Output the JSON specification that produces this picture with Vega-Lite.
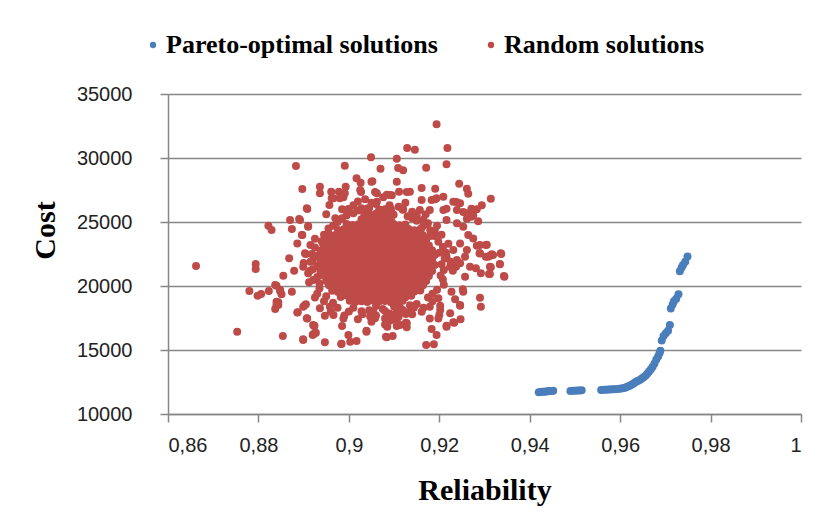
{
  "$schema": "https://vega.github.io/schema/vega-lite/v6.json",
  "width": 633,
  "height": 320,
  "autosize": "none",
  "padding": {"left": 168, "top": 94, "right": 31, "bottom": 99},
  "background": "white",
  "config": {"view": {"stroke": null}},
  "datasets": {
    "pareto": [
      {"reliability": 0.9420, "cost": 11700}, {"reliability": 0.9424, "cost": 11720}, {"reliability": 0.9428, "cost": 11730},
      {"reliability": 0.9432, "cost": 11740}, {"reliability": 0.9436, "cost": 11760}, {"reliability": 0.9440, "cost": 11770},
      {"reliability": 0.9444, "cost": 11790}, {"reliability": 0.9448, "cost": 11800}, {"reliability": 0.9452, "cost": 11820},
      {"reliability": 0.9490, "cost": 11800}, {"reliability": 0.9495, "cost": 11810}, {"reliability": 0.9500, "cost": 11820},
      {"reliability": 0.9505, "cost": 11830}, {"reliability": 0.9510, "cost": 11840}, {"reliability": 0.9515, "cost": 11850},
      {"reliability": 0.9558, "cost": 11870}, {"reliability": 0.9563, "cost": 11890}, {"reliability": 0.9568, "cost": 11900},
      {"reliability": 0.9573, "cost": 11910}, {"reliability": 0.9578, "cost": 11920}, {"reliability": 0.9583, "cost": 11930},
      {"reliability": 0.9588, "cost": 11940}, {"reliability": 0.9593, "cost": 11950}, {"reliability": 0.9598, "cost": 11970},
      {"reliability": 0.9603, "cost": 11990}, {"reliability": 0.9608, "cost": 12030}, {"reliability": 0.9612, "cost": 12070},
      {"reliability": 0.9616, "cost": 12120}, {"reliability": 0.9620, "cost": 12180}, {"reliability": 0.9624, "cost": 12260},
      {"reliability": 0.9628, "cost": 12350}, {"reliability": 0.9632, "cost": 12450}, {"reliability": 0.9636, "cost": 12530},
      {"reliability": 0.9640, "cost": 12600}, {"reliability": 0.9644, "cost": 12680}, {"reliability": 0.9648, "cost": 12780},
      {"reliability": 0.9652, "cost": 12870}, {"reliability": 0.9656, "cost": 12980}, {"reliability": 0.9660, "cost": 13150},
      {"reliability": 0.9664, "cost": 13330}, {"reliability": 0.9668, "cost": 13500}, {"reliability": 0.9672, "cost": 13700},
      {"reliability": 0.9676, "cost": 13950}, {"reliability": 0.9680, "cost": 14250}, {"reliability": 0.9684, "cost": 14500},
      {"reliability": 0.9687, "cost": 14750}, {"reliability": 0.9689, "cost": 14950},
      {"reliability": 0.9692, "cost": 15750}, {"reliability": 0.9696, "cost": 16100}, {"reliability": 0.9701, "cost": 16300},
      {"reliability": 0.9706, "cost": 16500}, {"reliability": 0.9710, "cost": 16950},
      {"reliability": 0.9712, "cost": 18250}, {"reliability": 0.9716, "cost": 18550}, {"reliability": 0.9719, "cost": 18800},
      {"reliability": 0.9724, "cost": 19000}, {"reliability": 0.9729, "cost": 19350},
      {"reliability": 0.9732, "cost": 21150}, {"reliability": 0.9736, "cost": 21450}, {"reliability": 0.9739, "cost": 21650},
      {"reliability": 0.9744, "cost": 21900}, {"reliability": 0.9749, "cost": 22300}
    ],
    "random": [
      {"reliability": 0.9194, "cost": 32630}, {"reliability": 0.9129, "cost": 30780}, {"reliability": 0.9146, "cost": 30650},
      {"reliability": 0.9218, "cost": 30780}, {"reliability": 0.9049, "cost": 30050}, {"reliability": 0.9106, "cost": 29950},
      {"reliability": 0.9216, "cost": 29510}, {"reliability": 0.8883, "cost": 29375}, {"reliability": 0.8991, "cost": 29400},
      {"reliability": 0.9070, "cost": 29160}, {"reliability": 0.9109, "cost": 29220}, {"reliability": 0.9120, "cost": 29040},
      {"reliability": 0.9171, "cost": 29240}, {"reliability": 0.9017, "cost": 28410}, {"reliability": 0.9026, "cost": 28070},
      {"reliability": 0.9025, "cost": 27500}, {"reliability": 0.9050, "cost": 28150}, {"reliability": 0.9106, "cost": 28150},
      {"reliability": 0.8897, "cost": 27580}, {"reliability": 0.8936, "cost": 27760}, {"reliability": 0.8936, "cost": 27240},
      {"reliability": 0.8961, "cost": 27370}, {"reliability": 0.8978, "cost": 27370}, {"reliability": 0.8993, "cost": 27760},
      {"reliability": 0.8988, "cost": 26930}, {"reliability": 0.8962, "cost": 26850}, {"reliability": 0.8908, "cost": 26020},
      {"reliability": 0.8870, "cost": 25160}, {"reliability": 0.8890, "cost": 25230}, {"reliability": 0.8822, "cost": 24710},
      {"reliability": 0.8829, "cost": 24380}, {"reliability": 0.8874, "cost": 24450}, {"reliability": 0.8897, "cost": 23980},
      {"reliability": 0.8886, "cost": 23330}, {"reliability": 0.8910, "cost": 24690}, {"reliability": 0.8868, "cost": 22160},
      {"reliability": 0.8662, "cost": 21560}, {"reliability": 0.8794, "cost": 21720}, {"reliability": 0.8794, "cost": 21330},
      {"reliability": 0.8855, "cost": 20800}, {"reliability": 0.8879, "cost": 21200}, {"reliability": 0.8840, "cost": 20020},
      {"reliability": 0.8780, "cost": 19610}, {"reliability": 0.8798, "cost": 19240}, {"reliability": 0.8806, "cost": 19380},
      {"reliability": 0.8823, "cost": 19610}, {"reliability": 0.8848, "cost": 19610}, {"reliability": 0.8851, "cost": 19350},
      {"reliability": 0.8874, "cost": 19560}, {"reliability": 0.8844, "cost": 18730}, {"reliability": 0.8840, "cost": 18520},
      {"reliability": 0.8837, "cost": 18200}, {"reliability": 0.8753, "cost": 16430}, {"reliability": 0.8854, "cost": 16090},
      {"reliability": 0.8886, "cost": 17920}, {"reliability": 0.8899, "cost": 18380}, {"reliability": 0.8903, "cost": 18520},
      {"reliability": 0.8908, "cost": 17470}, {"reliability": 0.8923, "cost": 16880}, {"reliability": 0.8920, "cost": 16170},
      {"reliability": 0.8925, "cost": 16300}, {"reliability": 0.8899, "cost": 15840}, {"reliability": 0.8947, "cost": 15600},
      {"reliability": 0.8983, "cost": 15470}, {"reliability": 0.9003, "cost": 15650}, {"reliability": 0.9017, "cost": 15700},
      {"reliability": 0.8985, "cost": 16880}, {"reliability": 0.8999, "cost": 16170}, {"reliability": 0.8988, "cost": 17470},
      {"reliability": 0.8947, "cost": 17680}, {"reliability": 0.8966, "cost": 17730}, {"reliability": 0.8936, "cost": 18260},
      {"reliability": 0.8958, "cost": 18380}, {"reliability": 0.9039, "cost": 16510}, {"reliability": 0.9084, "cost": 15990},
      {"reliability": 0.9097, "cost": 16090}, {"reliability": 0.9085, "cost": 16820}, {"reliability": 0.9106, "cost": 16880},
      {"reliability": 0.9126, "cost": 17130}, {"reliability": 0.9128, "cost": 16770}, {"reliability": 0.9171, "cost": 15390},
      {"reliability": 0.9188, "cost": 15450}, {"reliability": 0.9183, "cost": 16640}, {"reliability": 0.9194, "cost": 16170},
      {"reliability": 0.9216, "cost": 16820}, {"reliability": 0.9233, "cost": 17130}, {"reliability": 0.9247, "cost": 17400},
      {"reliability": 0.9224, "cost": 17870}, {"reliability": 0.9200, "cost": 17730}, {"reliability": 0.9202, "cost": 18130},
      {"reliability": 0.9179, "cost": 17470}, {"reliability": 0.9198, "cost": 17470}, {"reliability": 0.9135, "cost": 17990},
      {"reliability": 0.9144, "cost": 18330}, {"reliability": 0.9126, "cost": 17810}, {"reliability": 0.9113, "cost": 18330},
      {"reliability": 0.9100, "cost": 17600}, {"reliability": 0.9091, "cost": 17290}, {"reliability": 0.9080, "cost": 17470},
      {"reliability": 0.9235, "cost": 18960}, {"reliability": 0.9246, "cost": 18520}, {"reliability": 0.9253, "cost": 19560},
      {"reliability": 0.9252, "cost": 19740}, {"reliability": 0.9227, "cost": 19560}, {"reliability": 0.9290, "cost": 19090},
      {"reliability": 0.9292, "cost": 18380}, {"reliability": 0.9257, "cost": 20730}, {"reliability": 0.9281, "cost": 21380},
      {"reliability": 0.9292, "cost": 20990}, {"reliability": 0.9312, "cost": 20940}, {"reliability": 0.9334, "cost": 21720},
      {"reliability": 0.9344, "cost": 20730}, {"reliability": 0.9314, "cost": 21460}, {"reliability": 0.9312, "cost": 22370},
      {"reliability": 0.9337, "cost": 22500}, {"reliability": 0.9319, "cost": 22420}, {"reliability": 0.9290, "cost": 22550},
      {"reliability": 0.8921, "cost": 16950}, {"reliability": 0.8907, "cost": 17480}, {"reliability": 0.9303, "cost": 22290},
      {"reliability": 0.9316, "cost": 22480}, {"reliability": 0.9303, "cost": 23200}, {"reliability": 0.9283, "cost": 23150},
      {"reliability": 0.9237, "cost": 21510}, {"reliability": 0.9246, "cost": 21770}, {"reliability": 0.9246, "cost": 18460},
      {"reliability": 0.9231, "cost": 17160}, {"reliability": 0.9216, "cost": 16900}, {"reliability": 0.9161, "cost": 17990},
      {"reliability": 0.9179, "cost": 18380}, {"reliability": 0.9202, "cost": 18460}, {"reliability": 0.9198, "cost": 19040},
      {"reliability": 0.9082, "cost": 16040}, {"reliability": 0.9039, "cost": 16430}, {"reliability": 0.9113, "cost": 16950},
      {"reliability": 0.9128, "cost": 17090}, {"reliability": 0.9106, "cost": 17270}, {"reliability": 0.9058, "cost": 17480},
      {"reliability": 0.9027, "cost": 27340}, {"reliability": 0.9036, "cost": 26770}, {"reliability": 0.9058, "cost": 27340},
      {"reliability": 0.9084, "cost": 27130}, {"reliability": 0.9095, "cost": 27090}, {"reliability": 0.9128, "cost": 27340},
      {"reliability": 0.9161, "cost": 27660}, {"reliability": 0.9191, "cost": 27600}, {"reliability": 0.9191, "cost": 26770},
      {"reliability": 0.9216, "cost": 26040}, {"reliability": 0.9238, "cost": 26560}, {"reliability": 0.9253, "cost": 25780},
      {"reliability": 0.9261, "cost": 25260}, {"reliability": 0.9244, "cost": 27990}, {"reliability": 0.9261, "cost": 27600},
      {"reliability": 0.9264, "cost": 27210}, {"reliability": 0.9314, "cost": 26820}, {"reliability": 0.9294, "cost": 26300},
      {"reliability": 0.9283, "cost": 25990}, {"reliability": 0.9271, "cost": 26040}, {"reliability": 0.9275, "cost": 25520},
      {"reliability": 0.9286, "cost": 25050}, {"reliability": 0.9052, "cost": 28180}, {"reliability": 0.8907, "cost": 26070},
      {"reliability": 0.8966, "cost": 26850}, {"reliability": 0.8957, "cost": 26330}, {"reliability": 0.8991, "cost": 27240},
      {"reliability": 0.8980, "cost": 26850}, {"reliability": 0.8999, "cost": 26020}, {"reliability": 0.9209, "cost": 26980},
      {"reliability": 0.9231, "cost": 26590}, {"reliability": 0.9246, "cost": 26460}, {"reliability": 0.9111, "cost": 27370},
      {"reliability": 0.9091, "cost": 27110}, {"reliability": 0.9076, "cost": 26930}, {"reliability": 0.9062, "cost": 27240},
      {"reliability": 0.9062, "cost": 26590}, {"reliability": 0.9073, "cost": 25940}, {"reliability": 0.9039, "cost": 25940},
      {"reliability": 0.9010, "cost": 25680}, {"reliability": 0.9028, "cost": 26070}, {"reliability": 0.9135, "cost": 27370},
      {"reliability": 0.9161, "cost": 26720}, {"reliability": 0.9183, "cost": 26720}, {"reliability": 0.9194, "cost": 26850},
      {"reliability": 0.9157, "cost": 25940}, {"reliability": 0.9179, "cost": 25940}, {"reliability": 0.9209, "cost": 25940},
      {"reliability": 0.9239, "cost": 25940}, {"reliability": 0.9261, "cost": 25680}, {"reliability": 0.9271, "cost": 25410},
      {"reliability": 0.9290, "cost": 23200}, {"reliability": 0.9305, "cost": 23220}, {"reliability": 0.9289, "cost": 22550},
      {"reliability": 0.9308, "cost": 22290}, {"reliability": 0.9336, "cost": 22550}, {"reliability": 0.9334, "cost": 21690},
      {"reliability": 0.9312, "cost": 21510}, {"reliability": 0.9310, "cost": 20940}, {"reliability": 0.9343, "cost": 20780},
      {"reliability": 0.9257, "cost": 22290}, {"reliability": 0.9268, "cost": 21510}, {"reliability": 0.8892, "cost": 25160},
      {"reliability": 0.8910, "cost": 24630}, {"reliability": 0.8896, "cost": 23980}, {"reliability": 0.8903, "cost": 22550},
      {"reliability": 0.8899, "cost": 21510}, {"reliability": 0.8914, "cost": 21200}, {"reliability": 0.8921, "cost": 20470},
      {"reliability": 0.8837, "cost": 20080}, {"reliability": 0.8848, "cost": 19690}, {"reliability": 0.8840, "cost": 18770},
      {"reliability": 0.8844, "cost": 18520}, {"reliability": 0.8905, "cost": 18570}, {"reliability": 0.8887, "cost": 17950},
      {"reliability": 0.8924, "cost": 16900}, {"reliability": 0.8921, "cost": 16230}, {"reliability": 0.8927, "cost": 16350},
      {"reliability": 0.8899, "cost": 15780}, {"reliability": 0.8984, "cost": 15490},
      {"reliability": 0.9216, "cost": 25160}, {"reliability": 0.9239, "cost": 24900}, {"reliability": 0.9253, "cost": 24630},
      {"reliability": 0.9264, "cost": 23980}, {"reliability": 0.9275, "cost": 23720}, {"reliability": 0.9246, "cost": 23330},
      {"reliability": 0.9231, "cost": 22810}, {"reliability": 0.9216, "cost": 22290}, {"reliability": 0.9239, "cost": 22030},
      {"reliability": 0.9261, "cost": 22810}, {"reliability": 0.9224, "cost": 21510},
      {"reliability": 0.9225, "cost": 21900}, {"reliability": 0.9215, "cost": 22600}, {"reliability": 0.9230, "cost": 21200},
      {"reliability": 0.9208, "cost": 20500}, {"reliability": 0.9220, "cost": 23300}, {"reliability": 0.9190, "cost": 24300},
      {"reliability": 0.9175, "cost": 24900}, {"reliability": 0.9150, "cost": 25500}, {"reliability": 0.9205, "cost": 24000},
      {"reliability": 0.9165, "cost": 25200}, {"reliability": 0.9140, "cost": 25800}, {"reliability": 0.9110, "cost": 26200},
      {"reliability": 0.9080, "cost": 26000}, {"reliability": 0.9045, "cost": 26100}, {"reliability": 0.9020, "cost": 25900},
      {"reliability": 0.9060, "cost": 26400}, {"reliability": 0.9095, "cost": 25700}, {"reliability": 0.8995, "cost": 25500},
      {"reliability": 0.8975, "cost": 25000}, {"reliability": 0.8955, "cost": 24500}, {"reliability": 0.8945, "cost": 24000},
      {"reliability": 0.8985, "cost": 25300}, {"reliability": 0.8965, "cost": 24700}, {"reliability": 0.8915, "cost": 23200},
      {"reliability": 0.8905, "cost": 22500}, {"reliability": 0.8900, "cost": 21800}, {"reliability": 0.8910, "cost": 21000},
      {"reliability": 0.8920, "cost": 22000}, {"reliability": 0.8925, "cost": 23700}, {"reliability": 0.8912, "cost": 20300},
      {"reliability": 0.8935, "cost": 19800}, {"reliability": 0.8950, "cost": 19200}, {"reliability": 0.8965, "cost": 18700},
      {"reliability": 0.8930, "cost": 19400}, {"reliability": 0.8975, "cost": 18300}, {"reliability": 0.9000, "cost": 18000},
      {"reliability": 0.9030, "cost": 17800}, {"reliability": 0.9060, "cost": 17700}, {"reliability": 0.9090, "cost": 17850},
      {"reliability": 0.9045, "cost": 18100}, {"reliability": 0.9075, "cost": 18200}, {"reliability": 0.9120, "cost": 18100},
      {"reliability": 0.9150, "cost": 18600}, {"reliability": 0.9175, "cost": 19100}, {"reliability": 0.9195, "cost": 19700},
      {"reliability": 0.9210, "cost": 20100}, {"reliability": 0.9135, "cost": 18500}, {"reliability": 0.9185, "cost": 19400},
      {"reliability": 0.9203, "cost": 20830}, {"reliability": 0.9210, "cost": 21250}, {"reliability": 0.9205, "cost": 21700},
      {"reliability": 0.9212, "cost": 22150}, {"reliability": 0.9200, "cost": 22600}, {"reliability": 0.9208, "cost": 23050},
      {"reliability": 0.9198, "cost": 23450}, {"reliability": 0.9190, "cost": 23900}, {"reliability": 0.9180, "cost": 24350},
      {"reliability": 0.9165, "cost": 24700}, {"reliability": 0.9150, "cost": 25100}, {"reliability": 0.9130, "cost": 25450},
      {"reliability": 0.8920, "cost": 21300}, {"reliability": 0.8915, "cost": 21900}, {"reliability": 0.8918, "cost": 22500},
      {"reliability": 0.8925, "cost": 23000}, {"reliability": 0.8930, "cost": 20700}, {"reliability": 0.8935, "cost": 20200},
      {"reliability": 0.8940, "cost": 23500}, {"reliability": 0.8950, "cost": 24000},
      {"reliability": 0.8970, "cost": 25300}, {"reliability": 0.9000, "cost": 25800}, {"reliability": 0.9010, "cost": 26300},
      {"reliability": 0.9050, "cost": 26500}, {"reliability": 0.9090, "cost": 26300}, {"reliability": 0.9120, "cost": 26000},
      {"reliability": 0.9140, "cost": 25300}, {"reliability": 0.9160, "cost": 24500}, {"reliability": 0.9180, "cost": 23900},
      {"reliability": 0.9195, "cost": 24700}, {"reliability": 0.9170, "cost": 25600}, {"reliability": 0.9125, "cost": 26500},
      {"reliability": 0.9020, "cost": 26600}, {"reliability": 0.8985, "cost": 26000}, {"reliability": 0.8950, "cost": 25600},
      {"reliability": 0.8960, "cost": 18000}, {"reliability": 0.8990, "cost": 17700}, {"reliability": 0.9020, "cost": 17400},
      {"reliability": 0.9050, "cost": 17200}, {"reliability": 0.9080, "cost": 17000}, {"reliability": 0.9110, "cost": 17600},
      {"reliability": 0.9140, "cost": 17800}, {"reliability": 0.9165, "cost": 18300}, {"reliability": 0.9185, "cost": 18800},
      {"reliability": 0.8945, "cost": 18800}, {"reliability": 0.8925, "cost": 19100}, {"reliability": 0.9010, "cost": 18300},
      {"reliability": 0.9100, "cost": 18400},
      {"reliability": 0.9034, "cost": 25630}, {"reliability": 0.9047, "cost": 25570}, {"reliability": 0.9060, "cost": 25650},
      {"reliability": 0.9073, "cost": 25590}, {"reliability": 0.9086, "cost": 25620}, {"reliability": 0.9099, "cost": 25560},
      {"reliability": 0.9041, "cost": 26050}, {"reliability": 0.9067, "cost": 25980}, {"reliability": 0.9093, "cost": 26030},
      {"reliability": 0.9119, "cost": 25960},
      {"reliability": 0.9028, "cost": 18030}, {"reliability": 0.9054, "cost": 17960}, {"reliability": 0.9080, "cost": 18040},
      {"reliability": 0.9106, "cost": 17980}, {"reliability": 0.9047, "cost": 17620}, {"reliability": 0.9086, "cost": 17580},
      {"reliability": 0.9060, "cost": 18440},
      {"reliability": 0.9002, "cost": 18840}, {"reliability": 0.9015, "cost": 18770}, {"reliability": 0.9028, "cost": 18810},
      {"reliability": 0.9041, "cost": 18750}, {"reliability": 0.9054, "cost": 18860}, {"reliability": 0.9067, "cost": 18780},
      {"reliability": 0.9080, "cost": 18830}, {"reliability": 0.9093, "cost": 18740}, {"reliability": 0.9106, "cost": 18800},
      {"reliability": 0.9119, "cost": 18850},
      {"reliability": 0.8982, "cost": 19150}, {"reliability": 0.8995, "cost": 19260}, {"reliability": 0.9008, "cost": 19180},
      {"reliability": 0.9021, "cost": 19230}, {"reliability": 0.9034, "cost": 19140}, {"reliability": 0.9047, "cost": 19200},
      {"reliability": 0.9060, "cost": 19250}, {"reliability": 0.9073, "cost": 19160}, {"reliability": 0.9086, "cost": 19220},
      {"reliability": 0.9099, "cost": 19190}, {"reliability": 0.9112, "cost": 19270}, {"reliability": 0.9125, "cost": 19130},
      {"reliability": 0.9138, "cost": 19230},
      {"reliability": 0.8963, "cost": 19630}, {"reliability": 0.8976, "cost": 19540}, {"reliability": 0.8989, "cost": 19600},
      {"reliability": 0.9002, "cost": 19650}, {"reliability": 0.9015, "cost": 19560}, {"reliability": 0.9028, "cost": 19620},
      {"reliability": 0.9041, "cost": 19590}, {"reliability": 0.9054, "cost": 19670}, {"reliability": 0.9067, "cost": 19530},
      {"reliability": 0.9080, "cost": 19630}, {"reliability": 0.9093, "cost": 19570}, {"reliability": 0.9106, "cost": 19650},
      {"reliability": 0.9119, "cost": 19550}, {"reliability": 0.9132, "cost": 19610}, {"reliability": 0.9145, "cost": 19580},
      {"reliability": 0.9158, "cost": 19640},
      {"reliability": 0.8956, "cost": 20050}, {"reliability": 0.8969, "cost": 19960}, {"reliability": 0.8982, "cost": 20020},
      {"reliability": 0.8995, "cost": 19990}, {"reliability": 0.9008, "cost": 20070}, {"reliability": 0.9021, "cost": 19930},
      {"reliability": 0.9034, "cost": 20030}, {"reliability": 0.9047, "cost": 19970}, {"reliability": 0.9060, "cost": 20050},
      {"reliability": 0.9073, "cost": 19950}, {"reliability": 0.9086, "cost": 20010}, {"reliability": 0.9099, "cost": 19980},
      {"reliability": 0.9112, "cost": 20040}, {"reliability": 0.9125, "cost": 19970}, {"reliability": 0.9138, "cost": 20010},
      {"reliability": 0.9151, "cost": 19950}, {"reliability": 0.9164, "cost": 20060},
      {"reliability": 0.8950, "cost": 20390}, {"reliability": 0.8963, "cost": 20470}, {"reliability": 0.8976, "cost": 20330},
      {"reliability": 0.8989, "cost": 20430}, {"reliability": 0.9002, "cost": 20370}, {"reliability": 0.9015, "cost": 20450},
      {"reliability": 0.9028, "cost": 20350}, {"reliability": 0.9041, "cost": 20410}, {"reliability": 0.9054, "cost": 20380},
      {"reliability": 0.9067, "cost": 20440}, {"reliability": 0.9080, "cost": 20370}, {"reliability": 0.9093, "cost": 20410},
      {"reliability": 0.9106, "cost": 20350}, {"reliability": 0.9119, "cost": 20460}, {"reliability": 0.9132, "cost": 20380},
      {"reliability": 0.9145, "cost": 20430}, {"reliability": 0.9158, "cost": 20340}, {"reliability": 0.9171, "cost": 20400},
      {"reliability": 0.8943, "cost": 20830}, {"reliability": 0.8956, "cost": 20770}, {"reliability": 0.8969, "cost": 20850},
      {"reliability": 0.8982, "cost": 20750}, {"reliability": 0.8995, "cost": 20810}, {"reliability": 0.9008, "cost": 20780},
      {"reliability": 0.9021, "cost": 20840}, {"reliability": 0.9034, "cost": 20770}, {"reliability": 0.9047, "cost": 20810},
      {"reliability": 0.9060, "cost": 20750}, {"reliability": 0.9073, "cost": 20860}, {"reliability": 0.9086, "cost": 20780},
      {"reliability": 0.9099, "cost": 20830}, {"reliability": 0.9112, "cost": 20740}, {"reliability": 0.9125, "cost": 20800},
      {"reliability": 0.9138, "cost": 20850}, {"reliability": 0.9151, "cost": 20760}, {"reliability": 0.9164, "cost": 20820},
      {"reliability": 0.9177, "cost": 20790},
      {"reliability": 0.8937, "cost": 21150}, {"reliability": 0.8950, "cost": 21210}, {"reliability": 0.8963, "cost": 21180},
      {"reliability": 0.8976, "cost": 21240}, {"reliability": 0.8989, "cost": 21170}, {"reliability": 0.9002, "cost": 21210},
      {"reliability": 0.9015, "cost": 21150}, {"reliability": 0.9028, "cost": 21260}, {"reliability": 0.9041, "cost": 21180},
      {"reliability": 0.9054, "cost": 21230}, {"reliability": 0.9067, "cost": 21140}, {"reliability": 0.9080, "cost": 21200},
      {"reliability": 0.9093, "cost": 21250}, {"reliability": 0.9106, "cost": 21160}, {"reliability": 0.9119, "cost": 21220},
      {"reliability": 0.9132, "cost": 21190}, {"reliability": 0.9145, "cost": 21270}, {"reliability": 0.9158, "cost": 21130},
      {"reliability": 0.9171, "cost": 21230}, {"reliability": 0.9184, "cost": 21170},
      {"reliability": 0.8930, "cost": 21570}, {"reliability": 0.8943, "cost": 21610}, {"reliability": 0.8956, "cost": 21550},
      {"reliability": 0.8969, "cost": 21660}, {"reliability": 0.8982, "cost": 21580}, {"reliability": 0.8995, "cost": 21630},
      {"reliability": 0.9008, "cost": 21540}, {"reliability": 0.9021, "cost": 21600}, {"reliability": 0.9034, "cost": 21650},
      {"reliability": 0.9047, "cost": 21560}, {"reliability": 0.9060, "cost": 21620}, {"reliability": 0.9073, "cost": 21590},
      {"reliability": 0.9086, "cost": 21670}, {"reliability": 0.9099, "cost": 21530}, {"reliability": 0.9112, "cost": 21630},
      {"reliability": 0.9125, "cost": 21570}, {"reliability": 0.9138, "cost": 21650}, {"reliability": 0.9151, "cost": 21550},
      {"reliability": 0.9164, "cost": 21610}, {"reliability": 0.9177, "cost": 21580}, {"reliability": 0.9190, "cost": 21640},
      {"reliability": 0.8937, "cost": 22060}, {"reliability": 0.8950, "cost": 21980}, {"reliability": 0.8963, "cost": 22030},
      {"reliability": 0.8976, "cost": 21940}, {"reliability": 0.8989, "cost": 22000}, {"reliability": 0.9002, "cost": 22050},
      {"reliability": 0.9015, "cost": 21960}, {"reliability": 0.9028, "cost": 22020}, {"reliability": 0.9041, "cost": 21990},
      {"reliability": 0.9054, "cost": 22070}, {"reliability": 0.9067, "cost": 21930}, {"reliability": 0.9080, "cost": 22030},
      {"reliability": 0.9093, "cost": 21970}, {"reliability": 0.9106, "cost": 22050}, {"reliability": 0.9119, "cost": 21950},
      {"reliability": 0.9132, "cost": 22010}, {"reliability": 0.9145, "cost": 21980}, {"reliability": 0.9158, "cost": 22040},
      {"reliability": 0.9171, "cost": 21970}, {"reliability": 0.9184, "cost": 22010},
      {"reliability": 0.8930, "cost": 22340}, {"reliability": 0.8943, "cost": 22400}, {"reliability": 0.8956, "cost": 22450},
      {"reliability": 0.8969, "cost": 22360}, {"reliability": 0.8982, "cost": 22420}, {"reliability": 0.8995, "cost": 22390},
      {"reliability": 0.9008, "cost": 22470}, {"reliability": 0.9021, "cost": 22330}, {"reliability": 0.9034, "cost": 22430},
      {"reliability": 0.9047, "cost": 22370}, {"reliability": 0.9060, "cost": 22450}, {"reliability": 0.9073, "cost": 22350},
      {"reliability": 0.9086, "cost": 22410}, {"reliability": 0.9099, "cost": 22380}, {"reliability": 0.9112, "cost": 22440},
      {"reliability": 0.9125, "cost": 22370}, {"reliability": 0.9138, "cost": 22410}, {"reliability": 0.9151, "cost": 22350},
      {"reliability": 0.9164, "cost": 22460}, {"reliability": 0.9177, "cost": 22380}, {"reliability": 0.9190, "cost": 22430},
      {"reliability": 0.8937, "cost": 22760}, {"reliability": 0.8950, "cost": 22820}, {"reliability": 0.8963, "cost": 22790},
      {"reliability": 0.8976, "cost": 22870}, {"reliability": 0.8989, "cost": 22730}, {"reliability": 0.9002, "cost": 22830},
      {"reliability": 0.9015, "cost": 22770}, {"reliability": 0.9028, "cost": 22850}, {"reliability": 0.9041, "cost": 22750},
      {"reliability": 0.9054, "cost": 22810}, {"reliability": 0.9067, "cost": 22780}, {"reliability": 0.9080, "cost": 22840},
      {"reliability": 0.9093, "cost": 22770}, {"reliability": 0.9106, "cost": 22810}, {"reliability": 0.9119, "cost": 22750},
      {"reliability": 0.9132, "cost": 22860}, {"reliability": 0.9145, "cost": 22780}, {"reliability": 0.9158, "cost": 22830},
      {"reliability": 0.9171, "cost": 22740}, {"reliability": 0.9184, "cost": 22800},
      {"reliability": 0.8943, "cost": 23270}, {"reliability": 0.8956, "cost": 23130}, {"reliability": 0.8969, "cost": 23230},
      {"reliability": 0.8982, "cost": 23170}, {"reliability": 0.8995, "cost": 23250}, {"reliability": 0.9008, "cost": 23150},
      {"reliability": 0.9021, "cost": 23210}, {"reliability": 0.9034, "cost": 23180}, {"reliability": 0.9047, "cost": 23240},
      {"reliability": 0.9060, "cost": 23170}, {"reliability": 0.9073, "cost": 23210}, {"reliability": 0.9086, "cost": 23150},
      {"reliability": 0.9099, "cost": 23260}, {"reliability": 0.9112, "cost": 23180}, {"reliability": 0.9125, "cost": 23230},
      {"reliability": 0.9138, "cost": 23140}, {"reliability": 0.9151, "cost": 23200}, {"reliability": 0.9164, "cost": 23250},
      {"reliability": 0.9177, "cost": 23160},
      {"reliability": 0.8950, "cost": 23570}, {"reliability": 0.8963, "cost": 23650}, {"reliability": 0.8976, "cost": 23550},
      {"reliability": 0.8989, "cost": 23610}, {"reliability": 0.9002, "cost": 23580}, {"reliability": 0.9015, "cost": 23640},
      {"reliability": 0.9028, "cost": 23570}, {"reliability": 0.9041, "cost": 23610}, {"reliability": 0.9054, "cost": 23550},
      {"reliability": 0.9067, "cost": 23660}, {"reliability": 0.9080, "cost": 23580}, {"reliability": 0.9093, "cost": 23630},
      {"reliability": 0.9106, "cost": 23540}, {"reliability": 0.9119, "cost": 23600}, {"reliability": 0.9132, "cost": 23650},
      {"reliability": 0.9145, "cost": 23560}, {"reliability": 0.9158, "cost": 23620}, {"reliability": 0.9171, "cost": 23590},
      {"reliability": 0.8956, "cost": 24040}, {"reliability": 0.8969, "cost": 23970}, {"reliability": 0.8982, "cost": 24010},
      {"reliability": 0.8995, "cost": 23950}, {"reliability": 0.9008, "cost": 24060}, {"reliability": 0.9021, "cost": 23980},
      {"reliability": 0.9034, "cost": 24030}, {"reliability": 0.9047, "cost": 23940}, {"reliability": 0.9060, "cost": 24000},
      {"reliability": 0.9073, "cost": 24050}, {"reliability": 0.9086, "cost": 23960}, {"reliability": 0.9099, "cost": 24020},
      {"reliability": 0.9112, "cost": 23990}, {"reliability": 0.9125, "cost": 24070}, {"reliability": 0.9138, "cost": 23930},
      {"reliability": 0.9151, "cost": 24030}, {"reliability": 0.9164, "cost": 23970},
      {"reliability": 0.8976, "cost": 24380}, {"reliability": 0.8989, "cost": 24430}, {"reliability": 0.9002, "cost": 24340},
      {"reliability": 0.9015, "cost": 24400}, {"reliability": 0.9028, "cost": 24450}, {"reliability": 0.9041, "cost": 24360},
      {"reliability": 0.9054, "cost": 24420}, {"reliability": 0.9067, "cost": 24390}, {"reliability": 0.9080, "cost": 24470},
      {"reliability": 0.9093, "cost": 24330}, {"reliability": 0.9106, "cost": 24430}, {"reliability": 0.9119, "cost": 24370},
      {"reliability": 0.9132, "cost": 24450}, {"reliability": 0.9145, "cost": 24350}, {"reliability": 0.9158, "cost": 24410},
      {"reliability": 0.8995, "cost": 24850}, {"reliability": 0.9008, "cost": 24760}, {"reliability": 0.9021, "cost": 24820},
      {"reliability": 0.9034, "cost": 24790}, {"reliability": 0.9047, "cost": 24870}, {"reliability": 0.9060, "cost": 24730},
      {"reliability": 0.9073, "cost": 24830}, {"reliability": 0.9086, "cost": 24770}, {"reliability": 0.9099, "cost": 24850},
      {"reliability": 0.9112, "cost": 24750}, {"reliability": 0.9125, "cost": 24810},
      {"reliability": 0.9028, "cost": 25220}, {"reliability": 0.9041, "cost": 25170}, {"reliability": 0.9054, "cost": 25240},
      {"reliability": 0.9067, "cost": 25190}, {"reliability": 0.9080, "cost": 25230}, {"reliability": 0.9093, "cost": 25160}
    ]
  },
  "encoding": {
    "x": {
      "field": "reliability",
      "type": "quantitative",
      "scale": {"domain": [0.86, 1], "nice": false, "zero": false},
      "axis": {
        "values": [0.86, 0.88, 0.9, 0.92, 0.94, 0.96, 0.98, 1],
        "labelExpr": "replace(toString(datum.value), '.', ',')",
        "grid": false,
        "domainColor": "#878787",
        "domainWidth": 1.5,
        "tickColor": "#878787",
        "tickWidth": 1.5,
        "tickSize": 8,
        "labelFont": "Liberation Sans",
        "labelFontSize": 20,
        "labelColor": "#222222",
        "labelPadding": 13,
        "title": "Reliability",
        "titleFont": "Liberation Serif",
        "titleFontWeight": "bold",
        "titleFontSize": 30,
        "titleColor": "#000000",
        "titlePadding": 20
      }
    },
    "y": {
      "field": "cost",
      "type": "quantitative",
      "scale": {"domain": [10000, 35000], "nice": false, "zero": false},
      "axis": {
        "values": [10000, 15000, 20000, 25000, 30000, 35000],
        "format": "d",
        "grid": true,
        "gridColor": "#878787",
        "gridWidth": 1.5,
        "domainColor": "#878787",
        "domainWidth": 1.5,
        "tickColor": "#878787",
        "tickWidth": 1.5,
        "tickSize": 8,
        "labelFont": "Liberation Sans",
        "labelFontSize": 20,
        "labelColor": "#222222",
        "labelPadding": 28,
        "title": "Cost",
        "titleFont": "Liberation Serif",
        "titleFontWeight": "bold",
        "titleFontSize": 30,
        "titleColor": "#000000",
        "titlePadding": 16,
        "titleY": 136
      }
    }
  },
  "layer": [
    {
      "data": {"name": "pareto"},
      "mark": {"type": "circle", "size": 64, "opacity": 1},
      "encoding": {
        "color": {
          "datum": "Pareto-optimal solutions",
          "type": "nominal",
          "scale": {
            "domain": ["Pareto-optimal solutions", "Random solutions"],
            "range": ["#4A7EBB", "#BE4B48"]
          },
          "legend": {
            "orient": "none",
            "legendX": -28,
            "legendY": -62,
            "direction": "horizontal",
            "title": null,
            "symbolType": "circle",
            "symbolSize": 40,
            "labelFont": "Liberation Serif",
            "labelFontWeight": "bold",
            "labelFontSize": 26,
            "labelColor": "#000000",
            "labelOffset": 0,
            "labelLimit": 0,
            "columnPadding": 40
          }
        }
      }
    },
    {
      "data": {"name": "random"},
      "mark": {"type": "circle", "size": 64, "opacity": 1},
      "encoding": {
        "color": {"datum": "Random solutions", "type": "nominal"}
      }
    }
  ]
}
